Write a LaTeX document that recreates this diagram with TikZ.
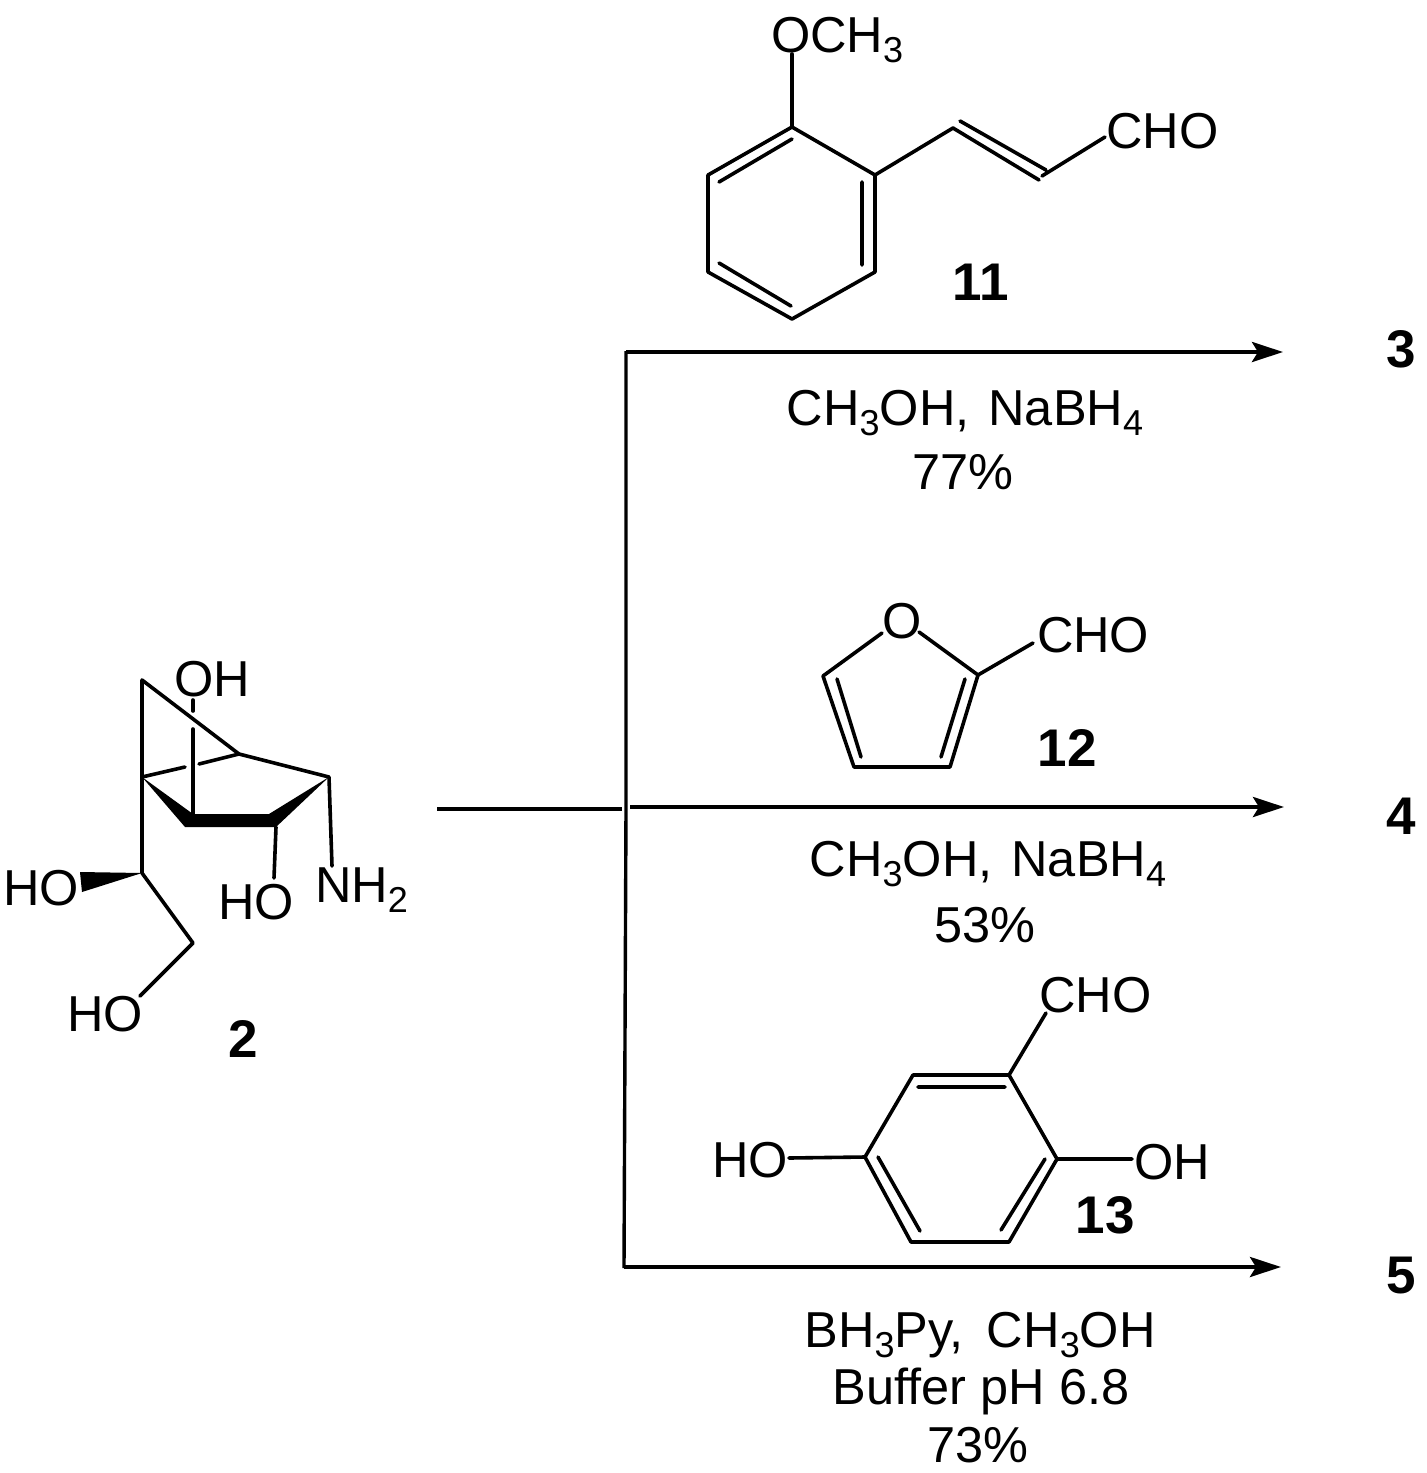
\documentclass[tikz,border=0pt]{standalone}
\usepackage{fontspec}
\setmainfont{Liberation Sans}
\usetikzlibrary{arrows.meta}
\newcommand{\subt}[1]{\raisebox{-0.2em}{\fontsize{36}{40}\selectfont #1}}
\tikzset{
  lab/.style={inner sep=0pt,outer sep=0pt,font=\fontsize{50.5}{58}\selectfont},
  cmp/.style={inner sep=0pt,outer sep=0pt,font=\fontsize{53}{60}\selectfont\bfseries},
  bond/.style={line width=3.6pt,line join=round,line cap=round,black},
  rxn/.style={line width=4pt,black},
  stem/.style={line width=3.4pt,black},
  arr/.style={rxn,-{Stealth[length=31pt,width=20pt,inset=6pt]}},
}
\begin{document}
\begin{tikzpicture}[x=1pt,y=-1pt]
\useasboundingbox (0,0) rectangle (1427,1473);
% ---------- compound 2
\coordinate (a1) at (142,680);
\coordinate (a2) at (142,777);
\coordinate (a3) at (239,754);
\coordinate (a4) at (329,777);
\coordinate (a5) at (193,729);
\coordinate (a6) at (193,814);
\coordinate (a7) at (193,700);
\coordinate (a8) at (193,711);
\coordinate (g1) at (185,767);
\coordinate (g2) at (199,764);
\coordinate (a9) at (142,873);
\coordinate (a10) at (193,943);
\coordinate (a11) at (140,996);
\coordinate (a12) at (276,827);
\coordinate (a13) at (274,878);
\coordinate (a14) at (332,866);
\coordinate (w1) at (269,814);
\coordinate (w2) at (185,827);
\coordinate (w3) at (80,872);
\coordinate (w4) at (82,892);
\draw[bond] (a9) -- (a2) -- (g1) (g2) -- (a3) -- (a4) -- (a14);
\draw[bond] (a2) -- (a1) -- (a3);
\draw[bond] (a5) -- (a6) (a7) -- (a8);
\draw[bond] (a12) -- (a13);
\draw[bond] (a9) -- (a10) -- (a11);
\fill (a2) -- (a6) -- (w1) -- (a4) -- (a12) -- (w2) -- cycle;
\fill (a9) -- (w3) -- (w4) -- cycle;
\node[lab,anchor=base west] (oh2a) at (174,696) {OH};
\node[lab,anchor=base west] (nh2) at (315,902) {NH\subt{2}};
\node[lab,anchor=base west] (ho2a) at (3.5,905) {HO};
\node[lab,anchor=base west] (ho2b) at (218,919) {HO};
\node[lab,anchor=base west] (ho2c) at (67,1031) {HO};
\node[cmp,anchor=base] (c2) at (243,1057) {2};
% ---------- compound 11
\coordinate (b1) at (792,127);
\coordinate (b2) at (708,175);
\coordinate (b3) at (708,272);
\coordinate (b4) at (792,319);
\coordinate (b5) at (875,272);
\coordinate (b6) at (875,175);
\coordinate (b7) at (792,54);
\coordinate (b8) at (953,128);
\coordinate (b9) at (1042,176);
\coordinate (b10) at (1105,137);
\coordinate (bi1) at (719,182);
\coordinate (bi2) at (792,139);
\coordinate (bi3) at (862,182);
\coordinate (bi4) at (862,265);
\coordinate (bi5) at (719,263);
\coordinate (bi6) at (791,306);
\coordinate (bi7) at (960,121);
\coordinate (bi8) at (1046,170);
\coordinate (bi9) at (1039,180);
\draw[bond] (b1) -- (b2) -- (b3) -- (b4) -- (b5) -- (b6) -- cycle;
\draw[bond] (b1) -- (b7);
\draw[bond] (bi1) -- (bi2) (bi3) -- (bi4) (bi5) -- (bi6);
\draw[bond] (b6) -- (b8) -- (bi9) (bi7) -- (bi8) (b9) -- (b10);
\node[lab,anchor=base west] (och3) at (771,52) {OCH\subt{3}};
\node[lab,anchor=base west] (cho11) at (1106.5,148) {CHO};
\node[cmp,anchor=base] (c11) at (981,300) {11};
% ---------- compound 12
\coordinate (d1) at (882,633);
\coordinate (d2) at (823,676);
\coordinate (d3) at (854,767);
\coordinate (d4) at (950,767);
\coordinate (d5) at (978,675);
\coordinate (d6) at (919,632);
\coordinate (d7) at (1033,643);
\coordinate (di1) at (837,679);
\coordinate (di2) at (861,757);
\coordinate (di3) at (965,679);
\coordinate (di4) at (941,757);
\draw[bond] (d1) -- (d2) -- (d3) -- (d4) -- (d5) -- (d6);
\draw[bond] (d5) -- (d7) (di1) -- (di2) (di3) -- (di4);
\node[lab,anchor=base west] (o12) at (882,638) {O};
\node[lab,anchor=base west] (cho12) at (1037,652) {CHO};
\node[cmp,anchor=base] (c12) at (1067,766) {12};
% ---------- compound 13
\coordinate (e1) at (1009,1075);
\coordinate (e2) at (913,1075);
\coordinate (e3) at (865,1157);
\coordinate (e4) at (911,1242);
\coordinate (e5) at (1009,1242);
\coordinate (e6) at (1057,1159);
\coordinate (e7) at (1046,1013);
\coordinate (e8) at (789,1158);
\coordinate (e9) at (1132,1159);
\coordinate (ei1) at (918,1087);
\coordinate (ei2) at (1005,1087);
\coordinate (ei3) at (878,1157);
\coordinate (ei4) at (920,1231);
\coordinate (ei5) at (1045,1159);
\coordinate (ei6) at (1001,1230);
\draw[bond] (e1) -- (e2) -- (e3) -- (e4) -- (e5) -- (e6) -- cycle;
\draw[bond] (e1) -- (e7) (e3) -- (e8) (e6) -- (e9);
\draw[bond] (ei1) -- (ei2) (ei3) -- (ei4) (ei5) -- (ei6);
\node[lab,anchor=base west] (cho13) at (1039.5,1012) {CHO};
\node[lab,anchor=base west] (ho13) at (712,1177) {HO};
\node[lab,anchor=base west] (oh13) at (1134,1179) {OH};
\node[cmp,anchor=base] (c13) at (1105,1233) {13};
% ---------- reaction lines
\coordinate (r0) at (437,809);
\coordinate (r1) at (622,809);
\coordinate (t0) at (626,351);
\coordinate (tm) at (626,808);
\coordinate (t1) at (624,1268);
\coordinate (m0) at (630,807);
\node[cmp,anchor=base] (p3) at (1401,367) {3};
\node[cmp,anchor=base] (p4) at (1401,834) {4};
\node[cmp,anchor=base] (p5) at (1401,1293) {5};
\coordinate (h3) at (1283,352);
\coordinate (h4) at (1284,807);
\coordinate (h5) at (1281,1267);
\draw[stem] (r0) -- (r1);
\draw[stem] (t0) -- (tm) -- (t1);
\draw[arr] (t0 |- h3) -- (h3);
\draw[arr] (m0) -- (h4);
\draw[arr] (t1 |- h5) -- (h5);
% ---------- conditions
\node[lab,anchor=base] (l1) at (965,425) {CH\subt{3}OH,\hspace{5pt} NaBH\subt{4}};
\node[lab,anchor=base] (l2) at (963,489) {77\%};
\node[lab,anchor=base] (l3) at (988,876) {CH\subt{3}OH,\hspace{5pt} NaBH\subt{4}};
\node[lab,anchor=base] (l4) at (985,942) {53\%};
\node[lab,anchor=base] (l5) at (980,1347) {BH\subt{3}Py,\hspace{9pt} CH\subt{3}OH};
\node[lab,anchor=base] (l6) at (981,1404) {Buffer pH 6.8};
\node[lab,anchor=base] (l7) at (978,1462) {73\%};
\end{tikzpicture}
\end{document}
